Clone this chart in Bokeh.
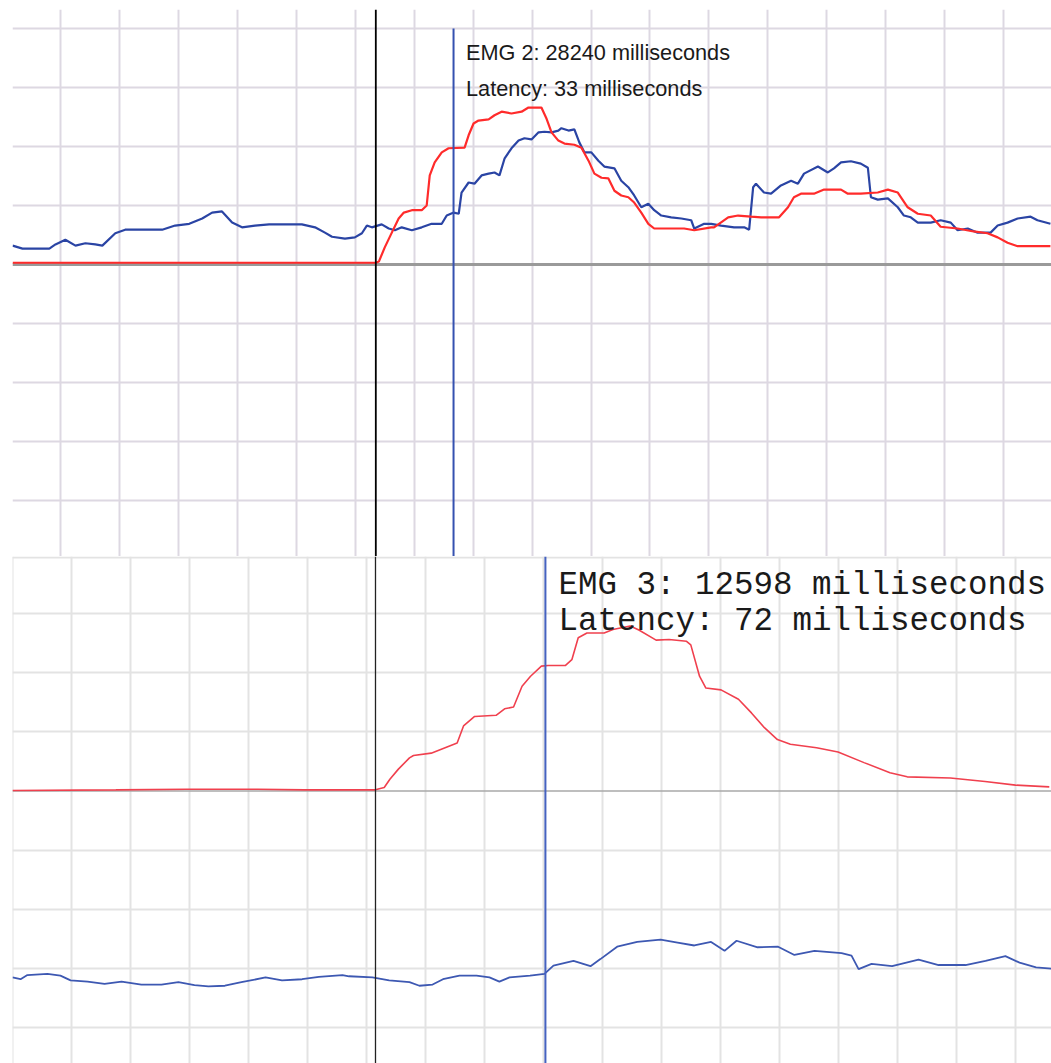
from bokeh.plotting import figure
from bokeh.layouts import column
from bokeh.models import Span, Grid, FixedTicker, Range1d
from bokeh.core.properties import value
from bokeh.embed import file_html
from bokeh.resources import INLINE

# ---------------- DATA (time in ms relative to stimulus, amplitude in grid units) ----------------
emg2_onset_ms = 28240
emg2_latency_ms = 33
emg3_onset_ms = 12598
emg3_latency_ms = 72

top_blue_t = [-154.2, -150.0, -144.5, -138.6, -136.0, -131.8, -127.5, -123.3, -119.1, -116.1,
              -110.6, -106.4, -96.2, -90.7, -85.2, -79.2, -73.7, -69.5, -65.3, -61.0,
              -56.8, -51.3, -45.3, -38.6, -31.4, -25.8, -21.6, -18.6, -13.1, -8.9,
              -5.9, -3.8, -1.7, 2.5, 5.5, 8.1, 11.0, 15.3, 19.5, 23.7,
              28.0, 30.1, 33.1, 35.2, 36.4, 39.4, 41.9, 44.9, 47.9, 50.4,
              52.5, 54.7, 57.6, 60.6, 63.1, 66.1, 69.1, 71.6, 74.6, 77.5,
              78.8, 81.8, 84.3, 86.4, 88.6, 91.5, 94.5, 97.0, 101.3, 104.2,
              107.2, 109.7, 112.7, 115.7, 118.2, 121.2, 125.4, 129.7, 133.9, 135.2,
              139.4, 142.4, 146.6, 152.1, 156.4, 158.5, 160.2, 161.4, 164.8, 167.8,
              172.0, 176.3, 179.2, 181.8, 187.7, 191.9, 194.5, 197.5, 201.7, 205.9,
              208.9, 210.2, 213.1, 217.4, 221.6, 224.2, 227.1, 230.1, 235.6, 239.8,
              244.1, 247.0, 251.3, 255.5, 261.0, 264.0, 268.2, 272.5, 278.0, 280.9, 286.4]
top_blue = [0.32, 0.27, 0.27, 0.27, 0.34, 0.42, 0.32, 0.36, 0.34, 0.32,
            0.53, 0.59, 0.59, 0.59, 0.66, 0.69, 0.78, 0.88, 0.90, 0.71,
            0.63, 0.66, 0.68, 0.68, 0.68, 0.63, 0.54, 0.47, 0.44, 0.46,
            0.53, 0.66, 0.63, 0.68, 0.61, 0.58, 0.63, 0.58, 0.63, 0.69,
            0.69, 0.83, 0.88, 0.86, 1.22, 1.39, 1.37, 1.51, 1.54, 1.56,
            1.51, 1.80, 1.97, 2.10, 2.14, 2.12, 2.24, 2.25, 2.24, 2.27,
            2.31, 2.27, 2.29, 2.07, 1.90, 1.90, 1.76, 1.66, 1.63, 1.42,
            1.31, 1.17, 0.97, 1.03, 0.92, 0.83, 0.80, 0.78, 0.75, 0.61,
            0.69, 0.69, 0.66, 0.63, 0.63, 0.59, 1.31, 1.37, 1.22, 1.20,
            1.34, 1.42, 1.37, 1.54, 1.66, 1.56, 1.63, 1.73, 1.75, 1.71,
            1.64, 1.14, 1.10, 1.12, 0.97, 0.83, 0.80, 0.71, 0.71, 0.75,
            0.71, 0.58, 0.61, 0.54, 0.54, 0.66, 0.71, 0.78, 0.81, 0.75, 0.69]

top_red_t = [-154.2, 0.0, 1.3, 3.8, 6.8, 9.7, 11.9, 15.3, 19.5, 21.6,
             22.9, 25.0, 28.0, 30.9, 37.7, 39.4, 41.5, 43.6, 47.9, 50.4,
             53.4, 57.6, 61.9, 64.8, 70.3, 72.5, 74.6, 77.5, 80.1, 84.3,
             87.3, 90.3, 92.8, 95.8, 98.7, 101.3, 104.2, 107.2, 109.7, 112.7,
             115.7, 118.2, 125.4, 130.9, 135.2, 142.4, 143.6, 149.6, 153.8, 159.3,
             163.6, 171.2, 175.0, 177.5, 180.5, 186.0, 190.3, 197.5, 200.4, 205.9,
             213.1, 217.4, 221.6, 225.8, 230.1, 235.6, 239.8, 247.0, 253.8, 259.7,
             264.0, 268.2, 272.5, 286.4]
top_red = [0.03, 0.03, 0.05, 0.29, 0.54, 0.78, 0.88, 0.92, 0.92, 1.00,
           1.51, 1.73, 1.90, 1.97, 1.98, 2.19, 2.39, 2.44, 2.46, 2.53,
           2.59, 2.56, 2.59, 2.66, 2.66, 2.47, 2.24, 2.10, 2.05, 2.03,
           1.98, 1.76, 1.54, 1.47, 1.46, 1.25, 1.17, 1.14, 1.05, 0.88,
           0.69, 0.61, 0.61, 0.61, 0.58, 0.63, 0.63, 0.80, 0.83, 0.81,
           0.80, 0.80, 0.97, 1.14, 1.20, 1.20, 1.27, 1.27, 1.20, 1.20,
           1.22, 1.27, 1.22, 0.97, 0.86, 0.83, 0.64, 0.61, 0.56, 0.53,
           0.46, 0.37, 0.31, 0.31]

bot_red_t = [-153.8, -110.0, -80.0, -50.0, -30.0, 0.0, 1.6, 3.7, 6.1, 9.7,
             14.4, 16.1, 23.6, 34.6, 37.3, 42.0, 51.1, 54.7, 58.5, 62.1,
             65.7, 70.3, 73.1, 80.4, 83.2, 85.9, 89.6, 96.9, 100.6, 107.9,
             111.6, 118.9, 124.4, 131.8, 133.6, 137.3, 140.0, 146.4, 153.8, 159.3,
             164.8, 170.3, 175.8, 186.9, 196.0, 207.0, 218.0, 225.3, 243.6, 258.3,
             271.2, 285.5]
bot_red = [0.01, 0.02, 0.03, 0.03, 0.02, 0.02, 0.04, 0.06, 0.20, 0.37,
           0.56, 0.60, 0.64, 0.81, 1.10, 1.26, 1.28, 1.39, 1.42, 1.77,
           1.94, 2.11, 2.12, 2.12, 2.22, 2.59, 2.67, 2.67, 2.73, 2.79,
           2.72, 2.55, 2.56, 2.53, 2.47, 1.94, 1.74, 1.71, 1.55, 1.32,
           1.07, 0.87, 0.79, 0.73, 0.66, 0.48, 0.31, 0.24, 0.22, 0.16,
           0.10, 0.07]

bot_blue_t = [-153.8, -150.4, -147.5, -139.0, -133.5, -129.2, -122.0, -114.8, -107.6, -99.2,
              -90.7, -83.5, -76.7, -70.8, -63.8, -56.8, -46.6, -39.6, -31.1, -24.0,
              -14.0, -11.2, -1.3, 5.8, 14.4, 18.6, 24.2, 28.6, 35.6, 42.8,
              48.3, 52.5, 56.8, 65.5, 71.6, 75.4, 83.9, 91.1, 95.3, 102.4,
              110.9, 120.8, 128.0, 135.1, 142.2, 147.9, 153.0, 161.9, 170.6, 177.5,
              186.0, 197.5, 201.7, 204.7, 210.2, 218.9, 230.1, 238.6, 250.0, 258.5,
              266.9, 272.9, 279.9, 286.4]
bot_blue = [-3.15, -3.18, -3.11, -3.09, -3.12, -3.20, -3.22, -3.26, -3.22, -3.27,
            -3.27, -3.23, -3.28, -3.30, -3.29, -3.23, -3.15, -3.20, -3.18, -3.14,
            -3.11, -3.13, -3.15, -3.20, -3.23, -3.29, -3.27, -3.18, -3.12, -3.12,
            -3.15, -3.22, -3.15, -3.12, -3.09, -2.95, -2.87, -2.96, -2.84, -2.63,
            -2.55, -2.51, -2.56, -2.61, -2.55, -2.70, -2.53, -2.64, -2.63, -2.77,
            -2.70, -2.74, -2.78, -3.01, -2.92, -2.96, -2.85, -2.94, -2.94, -2.87,
            -2.79, -2.90, -2.98, -3.00]

# ---------------- TOP PANEL ----------------
W = 1051
top = figure(width=W, height=556, output_backend="svg", toolbar_location=None,
             x_axis_type=None, y_axis_type=None,
             x_range=Range1d(-154.24, 286.86), y_range=Range1d(-4.949, 4.322),
             min_border_left=10, min_border_right=0, min_border_top=9, min_border_bottom=0,
             outline_line_color=None, background_fill_color="white", border_fill_color="white")
top.add_layout(Grid(dimension=0, ticker=FixedTicker(ticks=[-134.0 + 25.04 * k for k in range(17)]),
                    grid_line_color="#ddd8e2", grid_line_width=2))
top.add_layout(Grid(dimension=1, ticker=FixedTicker(ticks=[-4, -3, -2, -1, 1, 2, 3, 4]),
                    grid_line_color="#ddd8e2", grid_line_width=2))
top.add_layout(Span(location=0, dimension="width", line_color="#9a9a9a", line_width=3, level="underlay"))

top.line(top_blue_t, top_blue, line_color="#2a44a4", line_width=2.2)
top.line(top_red_t, top_red, line_color="#ff2b2b", line_width=2.2)

top.add_layout(Span(location=0, dimension="height", line_color="#000000", line_width=1.8))
top.segment(x0=[emg2_latency_ms], y0=[4.0], x1=[emg2_latency_ms], y1=[-4.949],
            line_color="#3551b0", line_width=2)

top.text(x=[emg2_latency_ms + 5.3, emg2_latency_ms + 5.3], y=[3.585, 2.975],
         text=[f"EMG 2: {emg2_onset_ms} milliseconds", f"Latency: {emg2_latency_ms} milliseconds"],
         text_font=value("Liberation Sans"), text_font_size="21.7px", text_color="#1a1a1a",
         text_baseline="alphabetic", text_align="left")

# ---------------- BOTTOM PANEL ----------------
bot = figure(width=W, height=507, output_backend="svg", toolbar_location=None,
             x_axis_type=None, y_axis_type=None,
             x_range=Range1d(-153.81, 286.44), y_range=Range1d(-4.604, 3.963),
             min_border_left=12, min_border_right=0, min_border_top=0, min_border_bottom=0,
             outline_line_color=None, background_fill_color="white", border_fill_color="white")
bot.add_layout(Grid(dimension=0, ticker=FixedTicker(ticks=[-153.8 + 25.0 * k for k in range(18)]),
                    grid_line_color="#e3e3e3", grid_line_width=2))
bot.add_layout(Grid(dimension=1, ticker=FixedTicker(ticks=[-4, -3, -2, -1, 1, 2, 3]),
                    grid_line_color="#e3e3e3", grid_line_width=2))
bot.add_layout(Span(location=3.946, dimension="width", line_color="#e3e3e3", line_width=2, level="underlay"))
bot.add_layout(Span(location=0, dimension="width", line_color="#a8a8a8", line_width=1.5, level="underlay"))

bot.line(bot_red_t, bot_red, line_color="#f0404e", line_width=1.6)
bot.line(bot_blue_t, bot_blue, line_color="#3d58b2", line_width=1.8)

bot.add_layout(Span(location=0, dimension="height", line_color="#222222", line_width=1.3))
bot.add_layout(Span(location=emg3_latency_ms, dimension="height", line_color="#4562c0", line_width=2))

bot.text(x=[emg3_latency_ms + 5.5, emg3_latency_ms + 5.5], y=[3.475, 2.868],
         text=[f"EMG 3: {emg3_onset_ms} milliseconds", f"Latency: {emg3_latency_ms} milliseconds"],
         text_font=value("Liberation Mono"), text_font_size="32.5px", text_color="#1a1a1a",
         text_baseline="alphabetic", text_align="left")

layout = column(top, bot, spacing=0)
open("out.html", "w").write(file_html(layout, INLINE))
